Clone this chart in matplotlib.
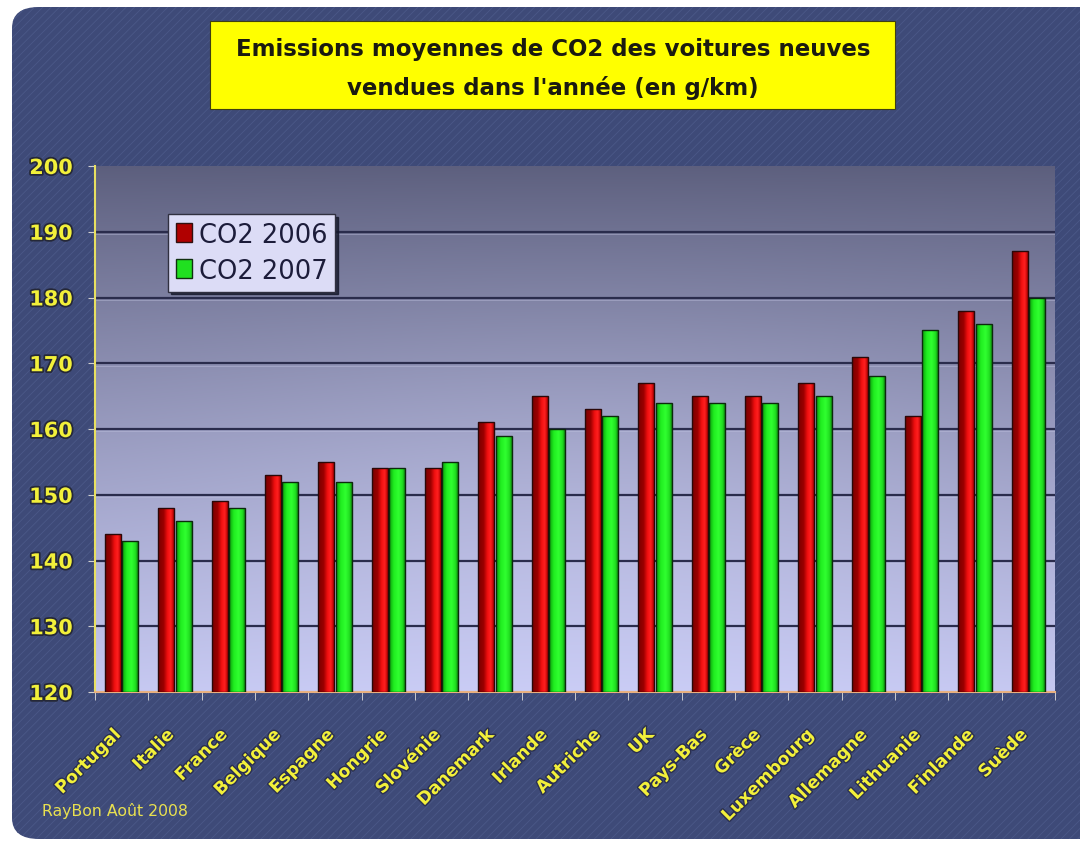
import numpy as np
import matplotlib
matplotlib.use("Agg")
import matplotlib.pyplot as plt
import matplotlib.patheffects as pe
import matplotlib.transforms as mtransforms
from matplotlib.patches import FancyBboxPatch, Rectangle, Patch

# ============================================
# Données
# ============================================
pays = [
    "Portugal", "Italie", "France", "Belgique", "Espagne", "Hongrie",
    "Slovénie", "Danemark", "Irlande", "Autriche", "UK", "Pays-Bas",
    "Grèce", "Luxembourg", "Allemagne", "Lithuanie", "Finlande", "Suède",
]
co2_2006 = [144, 148, 149, 153, 155, 154, 154, 161, 165, 163, 167, 165,
            165, 167, 171, 162, 178, 187]
co2_2007 = [143, 146, 148, 152, 152, 154, 155, 159, 160, 162, 164, 164,
            164, 165, 168, 175, 176, 180]
y_ticks = [120, 130, 140, 150, 160, 170, 180, 190, 200]

# ============================================
# Styles
# ============================================
plt.rcParams["font.family"] = ["DejaVu Sans"]
plt.rcParams["hatch.linewidth"] = 0.6

JAUNE = "#f2f03a"
NAVY = "#3e4a78"

fig = plt.figure(figsize=(10.8, 8.45), dpi=100)
fig.patch.set_facecolor("white")

# panneau bleu arrondi
panel = FancyBboxPatch(
    (12 / 1080, 5 / 845), 1.05, 832 / 845,
    boxstyle="round,pad=0,rounding_size=0.025",
    transform=fig.transFigure, facecolor=NAVY, edgecolor="none", zorder=-3,
)
fig.patches.append(panel)
texture = FancyBboxPatch(
    (12 / 1080, 5 / 845), 1.05, 832 / 845,
    boxstyle="round,pad=0,rounding_size=0.025",
    transform=fig.transFigure, facecolor="none", edgecolor="#4b5888",
    hatch="////", linewidth=0, zorder=-2,
)
fig.patches.append(texture)

ax = fig.add_axes([95 / 1080, 1 - 693 / 845, 960 / 1080, 526 / 845])
ax.set_zorder(1)

x = np.arange(len(pays))
w = 0.3

# fond dégradé de la zone de tracé (sombre en haut, clair en bas)
ny, nx = 200, 300
yy, xx = np.mgrid[0:1:ny * 1j, 0:1:nx * 1j]
haut = np.array([0.36, 0.37, 0.49])
bas = np.array([0.77, 0.78, 0.94])
t = (yy ** 0.9)[..., None]
fond = haut * (1 - t) + bas * t
glow = np.exp(-(((xx - 0.5) / 0.45) ** 2 + ((yy - 0.6) / 0.4) ** 2))[..., None]
fond = np.clip(fond + 0.06 * glow, 0, 1)
ax.imshow(fond, extent=[-0.5, len(pays) - 0.5, 120, 200], origin="upper",
          aspect="auto", zorder=0, interpolation="bilinear")

ax.set_xlim(-0.5, len(pays) - 0.5)
ax.set_ylim(120, 200)

# grille
for v in y_ticks[1:-1]:
    ax.axhline(v, color="#2a2c4c", linewidth=1.6, zorder=1)
    ax.axhline(v - 0.35, color="#c0c2e0", linewidth=0.6, alpha=0.5, zorder=1)


def degrade(bars, couleurs, pos):
    g = np.linspace(0, 1, 64)
    cols = np.array([matplotlib.colors.to_rgb(c) for c in couleurs])
    img = np.stack([np.interp(g, pos, cols[:, k]) for k in range(3)], axis=1)
    img = img[None, :, :]
    for b in bars:
        x0, y0 = b.get_x(), b.get_y()
        im = ax.imshow(img, extent=[x0, x0 + b.get_width(), y0, y0 + b.get_height()],
                       aspect="auto", zorder=3, interpolation="bilinear")
        im.set_clip_path(b)


b1 = ax.bar(x - 0.165, np.array(co2_2006) - 120, w, bottom=120,
            color="#c00000", edgecolor="#2a0808", linewidth=1, zorder=2,
            label="CO2 2006")
b2 = ax.bar(x + 0.165, np.array(co2_2007) - 120, w, bottom=120,
            color="#10e010", edgecolor="#0c2a0c", linewidth=1, zorder=2,
            label="CO2 2007")
degrade(b1, ["#7a0000", "#9a0000", "#f01010", "#ff2020", "#b00000"],
        [0.0, 0.35, 0.6, 0.8, 1.0])
degrade(b2, ["#0a9a0a", "#20ee20", "#30ff30", "#20e020", "#109010"],
        [0.0, 0.3, 0.6, 0.85, 1.0])
for b in list(b1) + list(b2):
    b.set_facecolor("none")
    b.set_zorder(4)

# axes
for s in ["top", "right"]:
    ax.spines[s].set_visible(False)
ax.spines["left"].set_color("#e8e060")
ax.spines["left"].set_linewidth(1.5)
ax.spines["bottom"].set_color("#e8b080")
ax.spines["bottom"].set_linewidth(1.5)

ax.set_yticks(y_ticks)
ax.set_yticklabels([str(v) for v in y_ticks], color=JAUNE, fontsize=15,
                   fontweight="bold")
ax.tick_params(axis="y", length=5, color="#d0d0d0", pad=11)
for lab in ax.get_yticklabels():
    lab.set_path_effects([pe.withStroke(linewidth=2.5, foreground="#252838")])

ax.set_xticks(np.arange(len(pays) + 1) - 0.5, minor=True)
ax.tick_params(axis="x", which="minor", length=6, color="#e0e0e0")
ax.set_xticks(x)
ax.set_xticklabels(pays, rotation=45, ha="right", rotation_mode="anchor",
                   color=JAUNE, fontsize=12.5, fontweight="bold")
ax.tick_params(axis="x", which="major", length=0, pad=24)
decalage = mtransforms.ScaledTranslation(-10 / 100, 0, fig.dpi_scale_trans)
for lab in ax.get_xticklabels():
    lab.set_transform(lab.get_transform() + decalage)
    lab.set_path_effects([pe.withStroke(linewidth=2, foreground="#2a2f50")])

# légende
leg = ax.legend(
    handles=[Patch(facecolor="#b00000", edgecolor="#301010", label="CO2 2006"),
             Patch(facecolor="#20e020", edgecolor="#103010", label="CO2 2007")],
    loc="upper left", bbox_to_anchor=(0.076, 0.909), fontsize=18.5,
    frameon=True, fancybox=False, shadow={"color": "#15182a", "alpha": 0.8},
    handlelength=0.65, handleheight=0.75, handletextpad=0.25, borderpad=0.3,
    labelspacing=0.4, borderaxespad=0,
)
leg.get_frame().set_facecolor("#dcdcf6")
leg.get_frame().set_edgecolor("#303040")
leg.get_frame().set_alpha(1)
for txt in leg.get_texts():
    txt.set_color("#1c1c3a")

# titre dans un cadre jaune
titre_box = Rectangle((210 / 1080, 1 - 110 / 845), 685 / 1080, 88 / 845,
                      transform=fig.transFigure, facecolor="#ffff00",
                      edgecolor="#404010", linewidth=0.8, zorder=2)
fig.patches.append(titre_box)
fig.text(553 / 1080, 1 - 69 / 845,
         "Emissions moyennes de CO2 des voitures neuves\n"
         "vendues dans l'année (en g/km)",
         ha="center", va="center", fontsize=16.5, fontweight="bold",
         color="#1a1a10", linespacing=1.75, zorder=3)

# signature
fig.text(42 / 1080, 1 - 811 / 845, "RayBon Août 2008", color="#e8e050",
         fontsize=11.3, ha="left", va="center", zorder=3)

fig.savefig("out.png", dpi=100, facecolor=fig.get_facecolor())
